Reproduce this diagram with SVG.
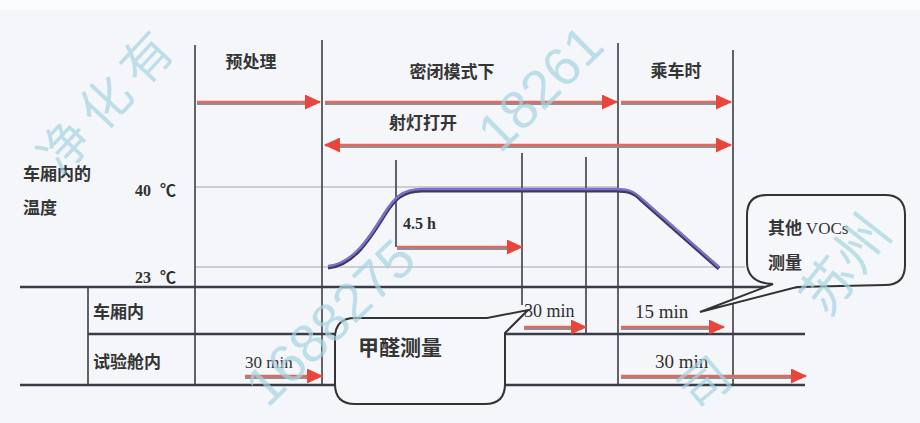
<svg xmlns="http://www.w3.org/2000/svg" width="920" height="423" viewBox="0 0 920 423">
<defs>
<style>
.bg{fill:#f4f6fa}
.v{stroke:#3e3e42;stroke-width:1.6;fill:none}
.tl{stroke:#3a3d48;stroke-width:2.4;fill:none}
.gl{stroke:#a3a6ad;stroke-width:1.2;fill:none}
.sh{stroke:#8d8f94;stroke-width:2;fill:none}
.ar{stroke:#e06a60;stroke-width:2.6;fill:none}
.cj{font-family:"Noto Sans CJK SC","Noto Sans CJK JP",sans-serif;fill:#353535;font-weight:bold}
.sf{font-family:"Liberation Serif","Noto Sans CJK SC",serif;fill:#303030}
.co{fill:#f6f7fa;stroke:#333;stroke-width:2}
.wm{font-family:"Noto Sans CJK SC","Liberation Sans",sans-serif;fill:#a6d5e1;opacity:.7}
.wd{font-family:"Liberation Sans",sans-serif;fill:#a6d5e1;opacity:.7}
</style>
<marker id="ah" markerUnits="userSpaceOnUse" markerWidth="17" markerHeight="15" refX="15" refY="7.5" orient="auto-start-reverse">
<path d="M0,0 L16,7.5 L0,15 Z" fill="#e8463c"/>
</marker>
</defs>
<rect class="bg" x="0" y="0" width="920" height="423"/>
<rect x="0" y="0" width="920" height="10" fill="#fbfcfd"/>

<g id="grid">
<line class="gl" x1="195" y1="187" x2="618" y2="187"/>
<line class="gl" x1="195" y1="267" x2="745" y2="267"/>
<line class="tl" x1="20" y1="287" x2="805" y2="287"/>
<line class="tl" x1="88" y1="334" x2="805" y2="334"/>
<line class="tl" x1="20" y1="385" x2="805" y2="385"/>
<line class="v" x1="88" y1="287" x2="88" y2="385"/>
<line class="v" x1="195" y1="45" x2="195" y2="385"/>
<line class="v" x1="322" y1="40" x2="322" y2="385"/>
<line class="v" x1="618" y1="43" x2="618" y2="385"/>
<line class="v" x1="733" y1="50" x2="733" y2="385"/>
<line class="v" x1="396" y1="160" x2="396" y2="247"/>
<line class="v" x1="522" y1="153" x2="522" y2="305"/>
<line class="v" x1="586" y1="157" x2="586" y2="334"/>
</g>

<g id="temperature-curve">
<path d="M328,266 C352,264 368,240 384,214 C394,198 402,189 422,189 L616,189 C628,189 634,191 642,199 L719,267" fill="none" stroke="#3f3a5c" stroke-width="4" transform="translate(0,1.5)"/>
<path d="M328,266 C352,264 368,240 384,214 C394,198 402,189 422,189 L616,189 C628,189 634,191 642,199 L719,267" fill="none" stroke="#7d70cf" stroke-width="2.4"/>
</g>

<g id="connectors">
<line class="sh" x1="197" y1="104" x2="316" y2="104"/>
<line class="ar" x1="197" y1="102" x2="320" y2="102" marker-end="url(#ah)"/>
<line class="sh" x1="325" y1="104" x2="613" y2="104"/>
<line class="ar" x1="325" y1="102" x2="617" y2="102" marker-end="url(#ah)"/>
<line class="sh" x1="621" y1="104" x2="727" y2="104"/>
<line class="ar" x1="621" y1="102" x2="731" y2="102" marker-end="url(#ah)"/>
<line class="sh" x1="330" y1="147" x2="727" y2="147"/>
<line class="ar" x1="325" y1="145" x2="731" y2="145" marker-start="url(#ah)" marker-end="url(#ah)"/>
<line class="sh" x1="397" y1="249" x2="518" y2="249"/>
<line class="ar" x1="397" y1="247" x2="522" y2="247" marker-end="url(#ah)"/>
<line class="sh" x1="524" y1="329" x2="582" y2="329"/>
<line class="ar" x1="524" y1="327" x2="586" y2="327" marker-end="url(#ah)"/>
<line class="sh" x1="621" y1="329" x2="720" y2="329"/>
<line class="ar" x1="621" y1="327" x2="724" y2="327" marker-end="url(#ah)"/>
<line class="sh" x1="245" y1="378" x2="318" y2="378"/>
<line class="ar" x1="245" y1="376" x2="322" y2="376" marker-end="url(#ah)"/>
<line class="sh" x1="621" y1="378" x2="802" y2="378"/>
<line class="ar" x1="621" y1="376" x2="806" y2="376" marker-end="url(#ah)"/>
</g>

<g id="phase-labels">
<text class="cj" x="251" y="68" font-size="17" text-anchor="middle">预处理</text>
<text class="cj" x="452" y="78" font-size="17" text-anchor="middle">密闭模式下</text>
<text class="cj" x="676" y="77" font-size="17" text-anchor="middle">乘车时</text>
<text class="cj" x="423" y="129" font-size="17" text-anchor="middle">射灯打开</text>
</g>

<g id="axis-labels">
<text class="cj" x="23" y="180" font-size="17">车厢内的</text>
<text class="cj" x="23" y="214" font-size="17">温度</text>
<text class="sf" x="135" y="196" font-size="16" font-weight="bold" word-spacing="5">40 ℃</text>
<text class="sf" x="135" y="283" font-size="16" font-weight="bold" word-spacing="5">23 ℃</text>
<text class="sf" x="403" y="229" font-size="16" font-weight="bold">4.5 h</text>
</g>

<g id="table-labels">
<text class="cj" x="93" y="318" font-size="17">车厢内</text>
<text class="cj" x="93" y="368" font-size="17">试验舱内</text>
<text class="sf" x="245" y="368" font-size="17">30 min</text>
<text class="sf" x="524" y="317" font-size="18">30 min</text>
<text class="sf" x="635" y="318" font-size="19">15 min</text>
<text class="sf" x="655" y="368" font-size="19">30 min</text>
</g>

<g id="callout-formaldehyde">
<path class="co" d="M355,318 L487,318 L528,310 L505,333 L505,384 Q505,404 485,404 L355,404 Q335,404 335,384 L335,338 Q335,318 355,318 Z"/>
<text class="cj" x="358" y="355" font-size="21">甲醛测量</text>
</g>

<g id="callout-vocs">
<path class="co" d="M767,195 L885,195 Q905,195 905,215 L905,265 Q905,285 885,285 L797,287 L700,312 L773,284 Q747,283 747,262 L747,215 Q747,195 767,195 Z"/>
<text class="cj" x="768" y="234" font-size="17">其他 <tspan font-family="Liberation Serif,serif" font-weight="normal">VOCs</tspan></text>
<text class="cj" x="768" y="269" font-size="17">测量</text>
</g>

<g id="watermark">
<text class="wm" font-size="50" letter-spacing="10" text-anchor="middle" dominant-baseline="central" transform="translate(106,96) rotate(-47)">净化有</text>
<text class="wd" font-size="54" text-anchor="middle" dominant-baseline="central" transform="translate(330,322) rotate(-44)">1688275</text>
<text class="wd" font-size="54" text-anchor="middle" dominant-baseline="central" transform="translate(540,88) rotate(-45)">18261</text>
<text class="wm" font-size="54" text-anchor="middle" dominant-baseline="central" transform="translate(842,262) rotate(-52)">苏州</text>
<text class="wm" font-size="50" text-anchor="middle" dominant-baseline="central" transform="translate(702,380) rotate(-40)">司</text>
</g>
</svg>
